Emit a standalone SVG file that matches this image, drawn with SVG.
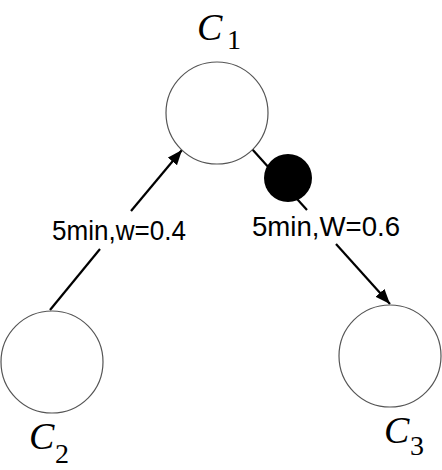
<svg xmlns="http://www.w3.org/2000/svg" width="442" height="470" viewBox="0 0 442 470">
<style>
.node{fill:#fff;stroke:#555;stroke-width:1.2}
.edge{stroke:#000;stroke-width:2.2;fill:none}
.lbl{font-family:"Liberation Sans",Arial,sans-serif;font-size:27px;fill:#000}
.c{font-family:"Liberation Serif","Times New Roman",serif;font-size:38px;font-style:italic;fill:#000}
.sub{font-family:"Liberation Serif","Times New Roman",serif;font-size:28px;fill:#000}
</style>
<defs>
<marker id="arr" markerUnits="userSpaceOnUse" markerWidth="16" markerHeight="14" refX="15" refY="6" orient="auto">
<path d="M0,0 L15,6 L0,12 z" fill="#000"/>
</marker>
</defs>
<rect width="442" height="470" fill="#fff"/>
<g id="connectors">
<line class="edge" x1="50" y1="310" x2="100" y2="249"/>
<line class="edge" x1="131" y1="211" x2="182" y2="150" marker-end="url(#arr)"/>
<line class="edge" x1="252" y1="149" x2="307" y2="210"/>
<line class="edge" x1="336" y1="244" x2="390" y2="304" marker-end="url(#arr)"/>
<text class="lbl" x="52" y="240" textLength="134" lengthAdjust="spacingAndGlyphs">5min,w=0.4</text>
<text class="lbl" x="252" y="236" textLength="148" lengthAdjust="spacingAndGlyphs">5min,W=0.6</text>
</g>
<g id="C1">
<circle class="node" cx="217" cy="113" r="51"/>
<text class="c" x="197" y="40">C</text><text class="sub" x="227" y="49">1</text>
</g>
<g id="C2">
<circle class="node" cx="52" cy="362" r="51"/>
<text class="c" x="29" y="449">C</text><text class="sub" x="55" y="463">2</text>
</g>
<g id="C3">
<circle class="node" cx="390" cy="356" r="51"/>
<text class="c" x="384" y="443">C</text><text class="sub" x="410" y="455">3</text>
</g>
<g id="token">
<circle cx="288" cy="178" r="24" fill="#000"/>
</g>
</svg>
